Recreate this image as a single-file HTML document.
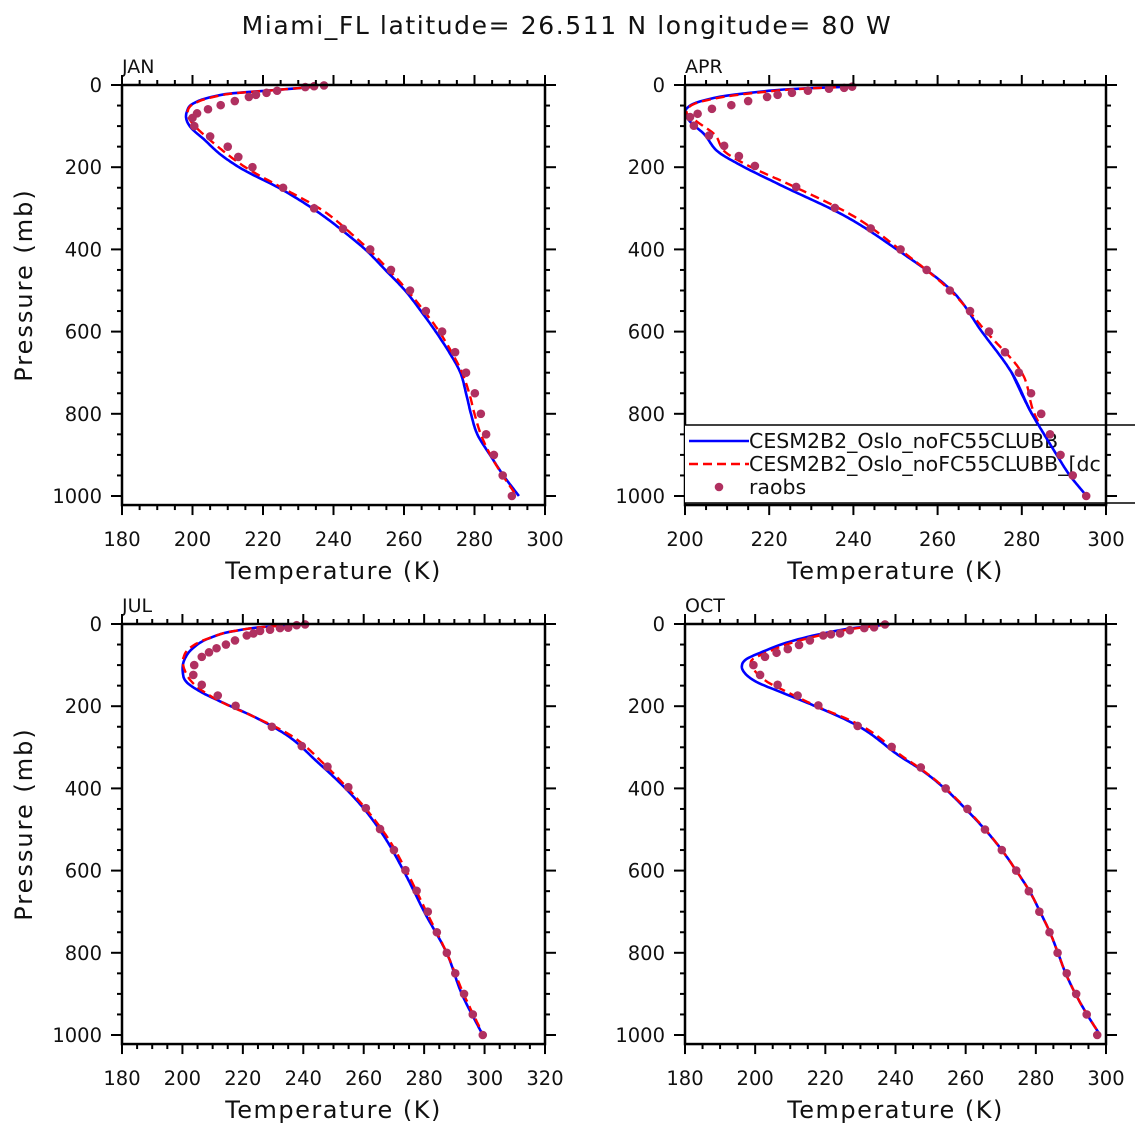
<!DOCTYPE html>
<html><head><meta charset="utf-8"><style>
html,body{margin:0;padding:0;background:#fff;}
svg{display:block;font-family:"DejaVu Sans","Liberation Sans",sans-serif;}
</style></head><body>
<svg id="chart" width="1135" height="1135" viewBox="0 0 1135 1135" xmlns="http://www.w3.org/2000/svg">
<rect x="0" y="0" width="1135" height="1135" fill="#fff"/>
<text x="567" y="34" font-size="25" letter-spacing="1.6" text-anchor="middle" fill="#111">Miami_FL  latitude= 26.511 N longitude= 80 W</text>
</svg>
<script>
// ---- data ----
const panelNames = ["JAN","APR","JUL","OCT"];
const xMins = [180,200,180,180];
const xMaxs = [300,300,320,300];
const xTickStep = 20;
const yTicks = [0,200,400,600,800,1000];

const janModP = [4,12,20,30,45,65,81,101,134,166,199,255,300,369,400,450,500,550,600,650,700,750,800,850,900,950,1000];
const janBlue = [235.2,223.9,211.6,205,200.2,198.4,198.2,199.3,203.5,207.5,213,225.5,234,244.7,249,254.7,260.3,264.8,269,272.8,276,277.6,279,280.8,284.4,288.2,292.6];
const janRed  = [235,224,212,205.5,200.5,198.6,199,200.8,205,209.5,214.8,226.5,236,246,250,255.7,261,265.7,270,273.5,276.5,278.5,280,281.8,284.5,288,292];
const janObsP = [1,3,5,14,19,24,29,39,49,59,69,80,100,125,150,175,200,250,300,350,400,450,500,550,600,650,700,750,800,850,900,950,1000];
const janObsT = [237.3,234.5,232,224,221,218,216,212,208,204.4,201.3,200,200.5,205,210,213,217,225.7,234.5,242.7,250.4,256.3,261.7,266.2,270.8,274.5,277.6,280.1,281.8,283.3,285.5,288,290.6];

const aprModP = [4,8,20,40,57,68,89,117,166,194,243,316,400,500,600,700,800,850,900,950,1000];
const aprBlue = [239.2,228.9,214.6,203.6,200.4,200,201.2,204.3,208.3,213,222.6,237.5,250.3,263.3,270.5,277.6,282.4,285.3,288.3,291.4,295.4];
const aprRed  = [239.2,230,216,204,200.6,200.4,202.8,206.7,209.9,214.6,225,239.5,251,263,271.5,280,283,285.5,288.5,291.6,295.3];
const aprObsP = [4,7,9,14,19,24,29,39,49,58,70,78,99,123,148,173,197,248,299,349,400,450,500,550,600,650,700,750,800,850,900,950,1000];
const aprObsT = [239.7,237.8,234.2,229.2,225.4,222,219.5,215,211,206.4,203,201.2,202.1,205.7,209.3,212.8,216.6,226.4,235.6,244.1,251.2,257.4,262.9,267.7,272.2,276,279.3,282.2,284.6,286.7,289.2,292.1,295.3];

const julModP = [1,6,16,34,58,83,115,140,164,188,225,265,338,375,448,521,599,704,801,899,1000];
const julBlue = [241.4,229,218,209.1,203.6,200.9,200.1,201.2,205.8,212.4,223.5,233.4,245,250.5,259.9,267.1,273.1,280.3,287.5,292.4,299.4];
const julRed  = [241.4,229,218,209,202.5,200.3,200.9,203,206.9,212.4,223.5,234.5,246.5,251.5,260.5,268,274,281,287.5,293,299.6];
const julObsP = [1,3,9,10,14,17,23,28,40,50,59,69,80,100,124,148,174,199,250,297,347,397,448,499,550,599,649,700,750,800,850,900,950,1000];
const julObsT = [240.6,237.8,235,232.3,229,225.7,223.5,221.3,217.4,214.4,211.3,208.8,206.4,203.9,203.6,206.4,211.7,217.6,229.6,239.5,248,254.9,260.7,265.4,270,273.8,277.5,281.2,284.2,287.5,290.3,293.2,296.1,299.4];

const octModP = [1,9,23,43,67,88,104,120,141,165,198,242,327,350,400,450,500,550,600,650,700,750,800,850,900,950,1000];
const octBlue = [238.3,228.9,219.4,209.9,202.3,197.1,196.2,197.1,200.4,207.1,216.6,228,242.2,246.5,254,260,265.5,270.3,274.4,278.2,281.2,284,286.3,288.5,291.3,294.6,298.3];
const octRed  = [238,230,221,211.5,204,199,199.2,200.5,203.5,209,217,229,242.8,246.8,254.2,260.2,265.6,270.3,274.4,278.2,281.2,284,286.3,288.5,291.3,294.6,298.3];
const octObsP = [1,8,10,15,23,25,28,40,51,61,70,80,100,124,148,174,198,248,299,349,400,450,500,550,600,650,700,750,800,850,900,950,1000];
const octObsT = [237,233.9,231.1,227,224.2,221.6,219.4,215.6,212.5,209.3,206.1,202.8,199.5,201.4,206.4,212.1,218,229.2,238.9,247.2,254.3,260.5,265.5,270.3,274.4,278,281,283.9,286.2,288.8,291.5,294.5,297.5];

const modPs = [janModP,aprModP,julModP,octModP];
const blues = [janBlue,aprBlue,julBlue,octBlue];
const reds = [janRed,aprRed,julRed,octRed];
const obsPs = [janObsP,aprObsP,julObsP,octObsP];
const obsTs = [janObsT,aprObsT,julObsT,octObsT];

// ---- drawing ----
const NS = "http://www.w3.org/2000/svg";
const svg = document.getElementById("chart");
const boxes = [[122,85],[685,85],[122,624],[685,624]];
const W = [423,421,423,421];
const PX_PER_MB = 0.411;
const PMAX = 1022;
function mk(tag, attrs, parent){
  const e = document.createElementNS(NS, tag);
  for (const k in attrs) e.setAttribute(k, attrs[k]);
  (parent||svg).appendChild(e);
  return e;
}
// smooth T(p) via cubic Hermite with weighted slopes, sampled densely
function profilePath(P, T, xs, ys){
  const n = P.length, m = [];
  const d = [];
  for (let i=0;i<n-1;i++) d.push((T[i+1]-T[i])/(P[i+1]-P[i]));
  for (let i=0;i<n;i++){
    if (i===0) m.push(d[0]);
    else if (i===n-1) m.push(d[n-2]);
    else {
      const h0 = P[i]-P[i-1], h1 = P[i+1]-P[i];
      m.push((d[i-1]*h1 + d[i]*h0)/(h0+h1));
    }
  }
  let s = "";
  for (let i=0;i<n-1;i++){
    const h = P[i+1]-P[i];
    const steps = Math.max(4, Math.ceil(h/3));
    for (let j=(i===0?0:1); j<=steps; j++){
      const t = j/steps, t2=t*t, t3=t2*t;
      const v = (2*t3-3*t2+1)*T[i] + (t3-2*t2+t)*h*m[i] + (-2*t3+3*t2)*T[i+1] + (t3-t2)*h*m[i+1];
      const p = P[i] + t*h;
      s += (s?"L":"M") + xs(v).toFixed(1) + "," + ys(p).toFixed(1);
    }
  }
  return s;
}
for (let k=0;k<4;k++){
  const x0 = boxes[k][0], y0 = boxes[k][1], w = W[k], h = PMAX*PX_PER_MB;
  const xmin = xMins[k], xmax = xMaxs[k];
  const xs = t => x0 + (t - xmin)/(xmax - xmin)*w;
  const ys = p => y0 + p*PX_PER_MB;
  const g = mk("g", {});
  
  
  const lab = mk("text", {x:x0, y:y0-12, "font-size":19, fill:"#111"}, g);
  
  
  lab.textContent = panelNames[k];
  const cid = "clip"+k;
  const cp = mk("clipPath", {id:cid}, g);
  mk("rect", {x:x0, y:y0, width:w, height:h}, cp);
  const dg = mk("g", {"clip-path":"url(#"+cid+")"}, g);
  const bl = mk("path", {d:profilePath(modPs[k], blues[k], xs, ys), fill:"none", stroke:"#0000ff", "stroke-width":2.6, "stroke-linejoin":"round"}, dg);
  
  
  const rl = mk("path", {d:profilePath(modPs[k], reds[k], xs, ys), fill:"none", stroke:"#ff0000", "stroke-width":2.4, "stroke-dasharray":"9,5"}, dg);
  
  
  for (let i=0;i<obsPs[k].length;i++){
    const c = mk("circle", {cx:xs(obsTs[k][i]), cy:ys(obsPs[k][i]), r:4.3, fill:"#b03060"}, g);
    
    
  }
  const fr = mk("rect", {x:x0, y:y0, width:w, height:h, fill:"none", stroke:"#000", "stroke-width":2.5}, g);
  
  
  for (let t=xmin; t<=xmax+0.01; t+=5){
    const major = (t % xTickStep)===0;
    const L = major?10:5;
    const x = xs(t);
    mk("line", {x1:x, y1:y0, x2:x, y2:y0-L, stroke:"#000", "stroke-width":2}, g);
    mk("line", {x1:x, y1:y0+h, x2:x, y2:y0+h+L, stroke:"#000", "stroke-width":2}, g);
    if (major){
      const tl = mk("text", {x:x, y:y0+h+41, "font-size":19.5, "text-anchor":"middle", fill:"#111"}, g);
      
      
      tl.textContent = t;
    }
  }
  for (let p=0; p<=1000; p+=50){
    const major = (p % 200)===0;
    const L = major?11:5;
    const y = ys(p);
    mk("line", {x1:x0, y1:y, x2:x0-L, y2:y, stroke:"#000", "stroke-width":2}, g);
    mk("line", {x1:x0+w, y1:y, x2:x0+w+L, y2:y, stroke:"#000", "stroke-width":2}, g);
  }
  yTicks.forEach(p=>{
    const tl = mk("text", {x:x0-20, y:ys(p)+7, "font-size":19.5, "text-anchor":"end", fill:"#111"}, g);
    
    
    tl.textContent = p;
  });
  const xt = mk("text", {x:x0+w/2, y:y0+h+74, "font-size":24, "letter-spacing":1.5, "text-anchor":"middle", fill:"#111"}, g);
  
  
  xt.textContent = "Temperature (K)";
  if (k===0 || k===2){
    const cy = y0 + h/2 - 10;
    const yt = mk("text", {x:32, y:cy, "font-size":24, "letter-spacing":2, "text-anchor":"middle", fill:"#111", transform:"rotate(-90 32 "+cy+")"}, g);
    
    
    yt.textContent = "Pressure (mb)";
  }
}
// legend in APR panel
const lg = mk("g", {});


mk("rect", {x:685, y:425, width:460, height:78, fill:"#fff", stroke:"none"}, lg);
mk("line", {x1:685, y1:425, x2:1135, y2:425, stroke:"#000", "stroke-width":1.5}, lg);
mk("line", {x1:685, y1:503, x2:1135, y2:503, stroke:"#000", "stroke-width":1.5}, lg);
const legendLabels = ["CESM2B2_Oslo_noFC55CLUBB","CESM2B2_Oslo_noFC55CLUBB_[dc","raobs"];
mk("line", {x1:689, y1:441, x2:749, y2:441, stroke:"#0000ff", "stroke-width":2.6}, lg);
mk("line", {x1:689, y1:464, x2:749, y2:464, stroke:"#ff0000", "stroke-width":2.4, "stroke-dasharray":"9,5"}, lg);
mk("circle", {cx:719, cy:487, r:4.3, fill:"#b03060"}, lg);
legendLabels.forEach((s,i)=>{
  const t = mk("text", {x:749, y:448+i*23, "font-size":20.5, fill:"#111"}, lg);
  
  
  t.textContent = s;
});
(function(){
  const k=1, x0=685, y0=85, w=421, xmin=200, xmax=300;
  const xs = t => x0 + (t - xmin)/(xmax - xmin)*w;
  const ys = p => y0 + p*PX_PER_MB;
  const P = [], T = [];
  for (let i=0;i<modPs[k].length;i++) if (modPs[k][i]>=700){ P.push(modPs[k][i]); T.push(blues[k][i]); }
  const l = mk("path", {d:profilePath(P, T, xs, ys), fill:"none", stroke:"#0000ff", "stroke-width":2.6});
  
  
  for (let i=0;i<obsPs[k].length;i++){
    if (obsPs[k][i] < 800) continue;
    const c = mk("circle", {cx:xs(obsTs[k][i]), cy:ys(obsPs[k][i]), r:4.3, fill:"#b03060"});
    
    
  }
  mk("line", {x1:1106, y1:425, x2:1106, y2:505, stroke:"#000", "stroke-width":2.5});
  [850,900,950].forEach(p=>{ mk("line",{x1:1106,y1:ys(p),x2:1111,y2:ys(p),stroke:"#000","stroke-width":2}); });
  mk("line",{x1:1106,y1:ys(1000),x2:1117,y2:ys(1000),stroke:"#000","stroke-width":2});
})();
</script>
</body></html>
